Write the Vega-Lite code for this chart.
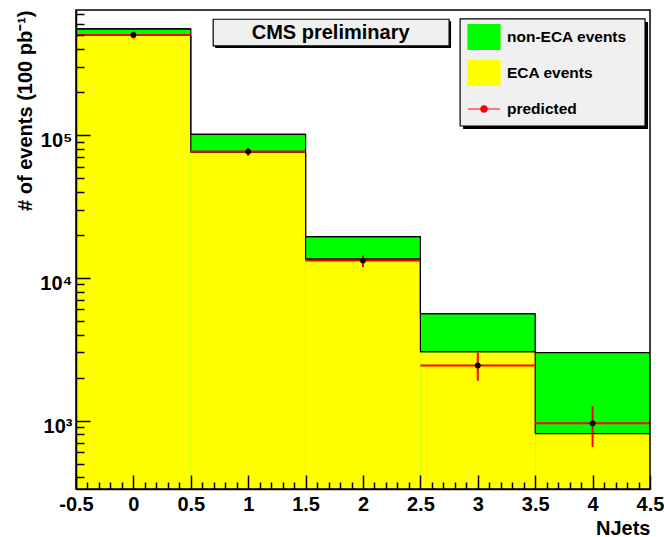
{
  "$schema": "https://vega.github.io/schema/vega-lite/v6.json",
  "width": 574,
  "height": 479,
  "autosize": "none",
  "padding": {"left": 76, "top": 10, "right": 14, "bottom": 48},
  "background": "white",
  "config": {
    "view": {"stroke": "black", "strokeWidth": 1.5},
    "style": {"cell": {"strokeForeground": true}},
    "font": "Liberation Sans"
  },
  "data": {
    "values": [
      {"nj": 0, "lo": -0.5, "hi": 0.5, "total": 554000, "eca": 499000, "pred": 501000, "plo": 474000, "phi": 530000},
      {"nj": 1, "lo": 0.5, "hi": 1.5, "total": 101000, "eca": 76000, "pred": 76500, "plo": 71500, "phi": 81500},
      {"nj": 2, "lo": 1.5, "hi": 2.5, "total": 19400, "eca": 13500, "pred": 13200, "plo": 11900, "phi": 14300},
      {"nj": 3, "lo": 2.5, "hi": 3.5, "total": 5600, "eca": 3040, "pred": 2430, "plo": 1900, "phi": 3000},
      {"nj": 4, "lo": 3.5, "hi": 4.5, "total": 2990, "eca": 811, "pred": 957, "plo": 655, "phi": 1260}
    ]
  },
  "resolve": {"axis": {"x": "independent", "y": "independent"}},
  "layer": [
    {
      "mark": {"type": "rect", "color": "#00ff00"},
      "encoding": {
        "x": {
          "field": "lo", "type": "quantitative",
          "scale": {"domain": [-0.5, 4.5], "nice": false, "zero": false},
          "axis": {
            "orient": "bottom",
            "values": [-0.5, 0, 0.5, 1, 1.5, 2, 2.5, 3, 3.5, 4, 4.5],
            "labelExpr": "toString(round(datum.value*10)/10)",
            "ticks": false, "tickSize": 0,
            "domain": true, "domainColor": "black", "domainWidth": 1.5,
            "grid": false, "zindex": 2,
            "labelOverlap": false, "labelFlush": false, "labelBound": false,
            "labelFont": "Liberation Sans", "labelFontWeight": "bold", "labelFontSize": 20, "labelColor": "black",
            "labelPadding": 5, "labelBaseline": "top",
            "title": "NJets", "titleAnchor": "end", "titleFont": "Liberation Sans", "titleFontWeight": "bold",
            "titleFontSize": 20, "titleColor": "black", "titleBaseline": "alphabetic", "titleY": 45
          }
        },
        "x2": {"field": "hi"},
        "y": {
          "field": "total", "type": "quantitative",
          "scale": {"type": "log", "domain": [332, 750000], "nice": false, "zero": false},
          "axis": {
            "orient": "left",
            "values": [1000, 10000, 100000],
            "labelExpr": "datum.value == 1000 ? '10³' : datum.value == 10000 ? '10⁴' : '10⁵'",
            "ticks": false, "tickSize": 0,
            "domain": true, "domainColor": "black", "domainWidth": 1.5,
            "grid": false, "zindex": 2,
            "labelOverlap": false, "labelFlush": false, "labelBound": false,
            "labelFont": "Liberation Sans", "labelFontWeight": "bold", "labelFontSize": 20, "labelColor": "black",
            "labelPadding": 4, "labelOffset": 6,
            "title": "# of events (100 pb⁻¹)", "titleAnchor": "end", "titleFont": "Liberation Sans", "titleFontWeight": "bold",
            "titleFontSize": 20, "titleColor": "black", "titleAngle": 270, "titleBaseline": "alphabetic", "titleX": -45
          }
        },
        "y2": {"datum": 332},
        "color": {
          "datum": "non-ECA events",
          "scale": {"domain": ["non-ECA events", "ECA events", "predicted"], "range": ["#00ff00", "#ffff00", "#ff0000"]},
          "legend": {
            "orient": "none", "legendX": 391, "legendY": 10, "padding": 0, "title": null,
            "labelFont": "Liberation Sans", "labelFontWeight": "bold", "labelFontSize": 15.5, "labelColor": "black",
            "labelOffset": 6, "rowPadding": 4, "symbolSize": 1024, "symbolStrokeWidth": 1.2, "symbolStrokeColor": "black",
            "symbolOpacity": 1,
            "encode": {
              "symbols": {
                "update": {
                  "shape": {"signal": "datum.value === 'predicted' ? 'M-1,0H-0.2M0.2,0H1M-0.2,0A0.2,0.2 0 1,0 0.2,0A0.2,0.2 0 1,0 -0.2,0' : 'M-1,-0.78H1V0.78H-1Z'"},
                  "stroke": {"signal": "datum.value === 'predicted' ? '#ff0000' : '#000000'"},
                  "fill": {"signal": "datum.value === 'predicted' ? '#000000' : scale('color', datum.value)"},
                  "opacity": {"value": 1}
                }
              }
            }
          }
        }
      }
    },
    {
      "mark": {"type": "rect"},
      "encoding": {
        "x": {
          "field": "lo", "type": "quantitative",
          "axis": {
            "orient": "bottom", "offset": -14,
            "values": [-0.5, 0, 0.5, 1, 1.5, 2, 2.5, 3, 3.5, 4, 4.5],
            "labels": false, "title": null, "domain": false, "grid": false, "zindex": 3,
            "ticks": true, "tickSize": 14, "tickWidth": 1.5, "tickColor": "#000000"
          }
        },
        "x2": {"field": "hi"},
        "y": {
          "field": "eca", "type": "quantitative",
          "axis": {
            "orient": "left", "offset": -14,
            "values": [1000, 10000, 100000],
            "labels": false, "title": null, "domain": false, "grid": false, "zindex": 3,
            "ticks": true, "tickSize": 14, "tickWidth": 1.5, "tickColor": "#000000"
          }
        },
        "y2": {"datum": 332},
        "color": {"datum": "ECA events"}
      }
    },
    {
      "mark": {"type": "rule", "color": "black", "strokeWidth": 1.2},
      "encoding": {
        "x": {
          "field": "lo", "type": "quantitative",
          "axis": {
            "orient": "bottom", "offset": -7,
            "values": [-0.4,-0.3,-0.2,-0.1,0.1,0.2,0.3,0.4,0.6,0.7,0.8,0.9,1.1,1.2,1.3,1.4,1.6,1.7,1.8,1.9,2.1,2.2,2.3,2.4,2.6,2.7,2.8,2.9,3.1,3.2,3.3,3.4,3.6,3.7,3.8,3.9,4.1,4.2,4.3,4.4],
            "labels": false, "title": null, "domain": false, "grid": false, "zindex": 3,
            "ticks": true, "tickSize": 7, "tickWidth": 1.5, "tickColor": "#000000"
          }
        },
        "x2": {"field": "hi"},
        "y": {
          "field": "total", "type": "quantitative",
          "axis": {
            "orient": "left", "offset": -8,
            "values": [400,500,600,700,800,900,2000,3000,4000,5000,6000,7000,8000,9000,20000,30000,40000,50000,60000,70000,80000,90000,200000,300000,400000,500000,600000,700000],
            "labels": false, "title": null, "domain": false, "grid": false, "zindex": 3,
            "ticks": true, "tickSize": 8, "tickWidth": 1.5, "tickColor": "#000000"
          }
        }
      }
    },
    {
      "mark": {"type": "line", "interpolate": "step-after", "color": "black", "strokeWidth": 1.2},
      "encoding": {
        "x": {"field": "lo", "type": "quantitative", "axis": null},
        "y": {"field": "total", "type": "quantitative", "axis": null}
      }
    },
    {
      "mark": {"type": "rule", "color": "black", "strokeWidth": 1.2},
      "encoding": {
        "x": {"field": "lo", "type": "quantitative", "axis": null},
        "x2": {"field": "hi"},
        "y": {"field": "eca", "type": "quantitative", "axis": null}
      }
    },
    {
      "mark": {"type": "line", "interpolate": "step-after", "color": "black", "strokeWidth": 1.2},
      "encoding": {
        "x": {"field": "lo", "type": "quantitative", "axis": null},
        "y": {"field": "eca", "type": "quantitative", "axis": null}
      }
    },
    {
      "mark": {"type": "rule", "strokeWidth": 2},
      "encoding": {
        "x": {"field": "lo", "type": "quantitative", "axis": null},
        "x2": {"field": "hi"},
        "y": {"field": "pred", "type": "quantitative", "axis": null},
        "color": {"datum": "predicted"}
      }
    },
    {
      "mark": {"type": "rule", "strokeWidth": 2, "color": "#ff0000"},
      "encoding": {
        "x": {"field": "nj", "type": "quantitative", "axis": null},
        "y": {"field": "plo", "type": "quantitative", "axis": null},
        "y2": {"field": "phi"}
      }
    },
    {
      "mark": {"type": "point", "shape": "circle", "filled": true, "color": "black", "opacity": 1, "size": 34},
      "encoding": {
        "x": {"field": "nj", "type": "quantitative", "axis": null},
        "y": {"field": "pred", "type": "quantitative", "axis": null}
      }
    },
    {
      "data": {"values": [{"label": "CMS preliminary"}]},
      "mark": {"type": "rect", "color": "black"},
      "encoding": {
        "x": {"datum": 0.712, "axis": null}, "x2": {"datum": 2.767},
        "y": {"datum": 625000, "axis": null}, "y2": {"datum": 406000}
      }
    },
    {
      "data": {"values": [{"label": "CMS preliminary"}]},
      "mark": {"type": "rect", "fill": "#f0f0f0", "stroke": "black", "strokeWidth": 1.2},
      "encoding": {
        "x": {"datum": 0.695, "axis": null}, "x2": {"datum": 2.75},
        "y": {"datum": 646000, "axis": null}, "y2": {"datum": 420000}
      }
    },
    {
      "data": {"values": [{"label": "CMS preliminary"}]},
      "mark": {"type": "text", "font": "Liberation Sans", "fontWeight": "bold", "fontSize": 20, "color": "black", "baseline": "middle", "align": "center"},
      "encoding": {
        "x": {"datum": 1.718, "axis": null},
        "y": {"datum": 517000, "axis": null},
        "text": {"field": "label"}
      }
    },
    {
      "data": {"values": [{"label": "legend box"}]},
      "mark": {"type": "rect", "color": "black"},
      "encoding": {
        "x": {"datum": 2.872, "axis": null}, "x2": {"datum": 4.483},
        "y": {"datum": 618000, "axis": null}, "y2": {"datum": 110000}
      }
    },
    {
      "data": {"values": [{"label": "legend box"}]},
      "mark": {"type": "rect", "fill": "#f0f0f0", "stroke": "black", "strokeWidth": 1.2},
      "encoding": {
        "x": {"datum": 2.846, "axis": null}, "x2": {"datum": 4.457},
        "y": {"datum": 649000, "axis": null}, "y2": {"datum": 115600}
      }
    }
  ]
}
